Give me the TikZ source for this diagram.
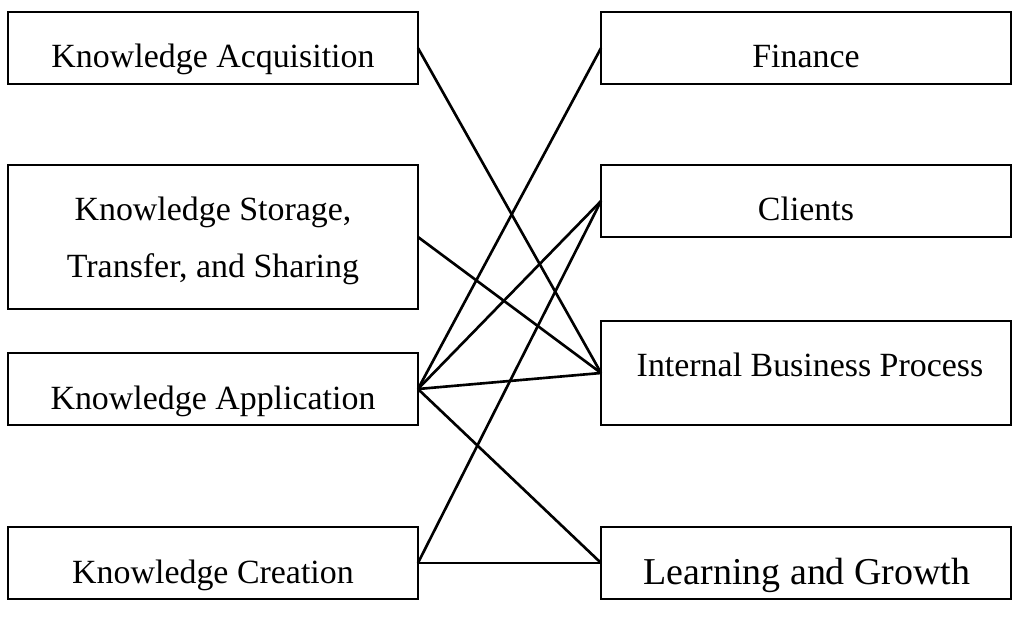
\documentclass[tikz,border=0pt]{standalone}
\usepackage{fontspec}
\setmainfont{Liberation Serif}

\tikzset{
  box/.style={draw,line width=1.6pt,rectangle,minimum width=8.2cm,inner sep=0pt,outer sep=0pt},
  label/.style={anchor=base,font=\fontsize{19.3}{22}\selectfont,inner sep=0pt},
  link/.style={line width=1.5pt}
}

\begin{document}
\begin{tikzpicture}[x=0.02cm,y=-0.02cm]
  \useasboundingbox (0,0) rectangle (1024,621);

  % left column
  \node[box,minimum height=1.44cm] (ka) at (213,48) {};
  \node[box,minimum height=2.88cm] (ks) at (213,237) {};
  \node[box,minimum height=1.44cm] (kap) at (213,389) {};
  \node[box,minimum height=1.44cm] (kc) at (213,563) {};

  % right column
  \node[box,minimum height=1.44cm] (fin) at (806,48) {};
  \node[box,minimum height=1.44cm] (cli) at (806,201) {};
  \node[box,minimum height=2.08cm] (ibp) at (806,373) {};
  \node[box,minimum height=1.44cm] (lg) at (806,563) {};

  % texts
  \node[label] (ka-t) at (213,68) {Knowledge Acquisition};
  \node[label] (ks-t1) at (213,221) {Knowledge Storage,};
  \node[label] (ks-t2) at (213,278) {Transfer, and Sharing};
  \node[label] (kap-t) at (213,409) {Knowledge Application};
  \node[label] (kc-t) at (213,583) {Knowledge Creation};
  \node[label] (fin-t) at (806,68) {Finance};
  \node[label] (cli-t) at (806,221) {Clients};
  \node[label] (ibp-t) at (810,377) {Internal Business Process};
  \node[label,font=\fontsize{21.6}{24}\selectfont] (lg-t) at (807,584) {Learning and Growth};

  \foreach \a/\b in {ka/ibp,ks/ibp,kap/fin,kap/cli,kap/ibp,kap/lg,kc/cli,kc/lg} {
    \draw[link] (\a.east) -- (\b.west);
  }
\end{tikzpicture}
\end{document}
